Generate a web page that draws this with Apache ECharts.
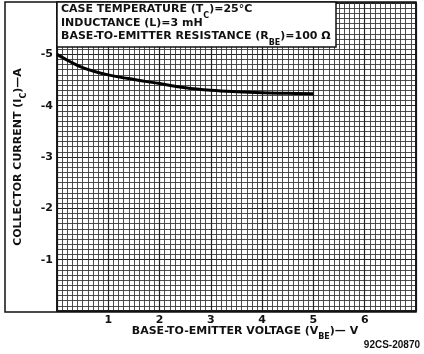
<!DOCTYPE html>
<html><head><meta charset="utf-8">
<script src="https://cdn.jsdelivr.net/npm/echarts@6/dist/echarts.min.js"></script>
<style>html,body{margin:0;padding:0;background:#fff}#c{width:424px;height:354px}</style>
</head><body><div id="c"></div>
<script>
const vbe = [0, 0.25, 0.5, 0.75, 1, 1.5, 2, 2.5, 3, 3.5, 4, 4.5, 5];
const ic = [-5.0, -4.86, -4.74, -4.66, -4.6, -4.51, -4.43, -4.35, -4.3, -4.27, -4.25, -4.24, -4.23];
const xTickLabels = [1, 2, 3, 4, 5, 6];
const yTickLabels = [-5, -4, -3, -2, -1];
const noteLines = [
  ['CASE TEMPERATURE (T', 'C', ')=25°C'],
  ['INDUCTANCE (L)=3 mH'],
  ['BASE-TO-EMITTER RESISTANCE (R', 'BE', ')=100 Ω']
];

const FONT = '"DejaVu Sans", "Liberation Sans", sans-serif';
const rich = {
  n: {fontFamily: FONT, fontWeight: 'bold', fontSize: 11, lineHeight: 14, fill: '#111', color: '#111', verticalAlign: 'middle'},
  s: {fontFamily: FONT, fontWeight: 'bold', fontSize: 8, lineHeight: 8, fill: '#111', color: '#111', verticalAlign: 'bottom', padding: [0,0,-3,0]}
};
function richLine(parts) {
  return parts.map((p, i) => (i % 2 === 1 ? '{s|' + p + '}' : '{n|' + p + '}')).join('');
}

const chart = echarts.init(document.getElementById('c'));
chart.setOption({
  animation: false,
  backgroundColor: '#fff',
  grid: {left: 57, right: 8, top: 3, bottom: 43, show: true, borderColor: '#111', borderWidth: 1.5},
  xAxis: {
    type: 'value', min: 0, max: 7, interval: 1,
    axisLine: {show: true, lineStyle: {color: '#111', width: 1.5}},
    axisTick: {show: false},
    axisLabel: {
      color: '#111', fontFamily: FONT, fontWeight: 'bold', fontSize: 11, margin: 4,
      formatter: v => (xTickLabels.indexOf(Math.round(v)) >= 0 && Math.abs(v - Math.round(v)) < 1e-6) ? String(Math.round(v)) : ''
    },
    splitLine: {show: true, lineStyle: {color: '#222', width: 1.2}},
    minorTick: {show: false, splitNumber: 10},
    minorSplitLine: {show: true, lineStyle: {color: '#3a3a3a', width: 0.9}}
  },
  yAxis: {
    type: 'value', min: -6, max: 0, interval: 1, inverse: true,
    axisLine: {show: true, lineStyle: {color: '#111', width: 1.5}},
    axisTick: {show: false},
    axisLabel: {
      color: '#111', fontFamily: FONT, fontWeight: 'bold', fontSize: 11, margin: 4,
      formatter: v => (yTickLabels.indexOf(Math.round(v)) >= 0) ? String(Math.round(v)) : ''
    },
    splitLine: {show: true, lineStyle: {color: '#222', width: 1.2}},
    minorTick: {show: false, splitNumber: 10},
    minorSplitLine: {show: true, lineStyle: {color: '#3a3a3a', width: 0.9}},
    name: '{n|COLLECTOR CURRENT (I}{s|C}{n|)—A}',
    nameLocation: 'middle', nameRotate: 90, nameGap: 32,
    nameTextStyle: {rich: rich}
  },
  series: [{
    type: 'line', data: vbe.map((x, i) => [x, ic[i]]), smooth: 0.4,
    showSymbol: false, lineStyle: {color: '#000', width: 3}, z: 5
  }],
  graphic: [
    {type: 'rect', shape: {x: 5, y: 2, width: 411, height: 310}, style: {fill: 'none', stroke: '#111', lineWidth: 1.5}, z: 100, silent: true},
    {type: 'rect', shape: {x: 57, y: 2, width: 279, height: 45}, style: {fill: '#fff', stroke: '#111', lineWidth: 1.5}, z: 100},
    {type: 'text', left: 61, top: 4, z: 101, style: {text: richLine(noteLines[0]), rich: rich}},
    {type: 'text', left: 61, top: 18, z: 101, style: {text: richLine(noteLines[1]), rich: rich}},
    {type: 'text', left: 61, top: 31, z: 101, style: {text: richLine(noteLines[2]), rich: rich}},
    {type: 'text', x: 245, y: 324, z: 101, style: {text: '{n|BASE-TO-EMITTER VOLTAGE (V}{s|BE}{n|)— V}', rich: rich, align: 'center'}},
    {type: 'text', x: 420, y: 340, z: 101, style: {text: '92CS-20870', fontFamily: '"Liberation Sans", Arial, sans-serif', fontWeight: 'bold', fontSize: 10, fill: '#111', align: 'right'}}
  ]
});
</script></body></html>
